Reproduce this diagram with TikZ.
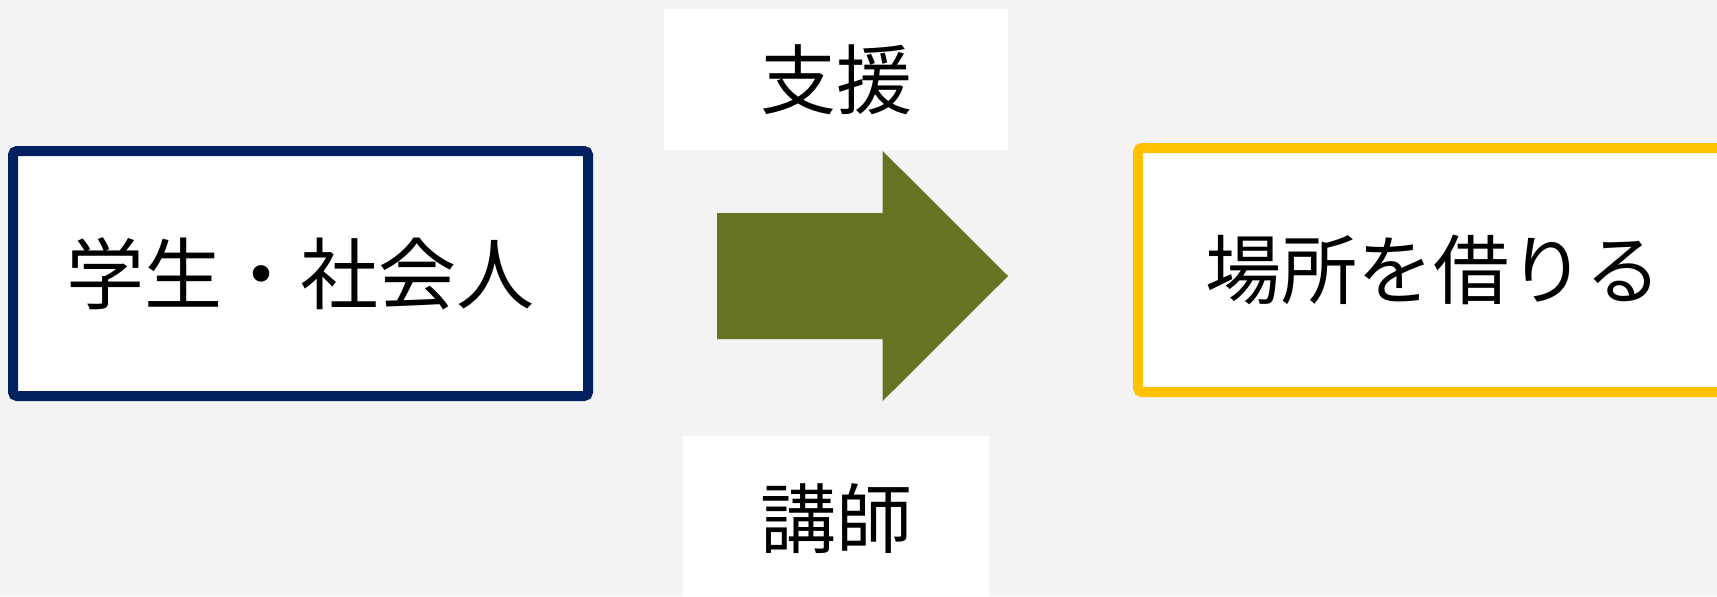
\documentclass[tikz,border=0pt]{standalone}
\usepackage{fontspec}
\newfontfamily\jpfont{Noto Sans CJK JP}
\usepackage{tikz}
\definecolor{boxnavy}{RGB}{0,32,96}
\definecolor{boxgold}{RGB}{255,192,0}
\definecolor{arrowolive}{RGB}{100,116,35}
\definecolor{pagegray}{RGB}{243,243,243}

\begin{document}
\begin{tikzpicture}
[
x=0.5pt, y=-0.5pt,
mybox/.style={rectangle, fill=white, line width=5pt, rounded corners=2pt, minimum width=287.5pt, minimum height=122.5pt, inner sep=0pt, font=\jpfont\fontsize{38pt}{40pt}\selectfont},
tbox/.style={rectangle, draw=none, fill=white, inner sep=0pt, font=\jpfont\fontsize{38pt}{40pt}\selectfont},
]
\fill[pagegray] (0,0) rectangle (1717,596);
\useasboundingbox (0,0) rectangle (1717,596);
\node at (300.5,273.5) [mybox, draw=boxnavy, font=\jpfont\fontsize{39pt}{41pt}\selectfont]      (people)     {学生・社会人};
\node at (1433.5,270) [mybox, draw=boxgold, minimum width=295.5pt, minimum height=122pt]      (place)     {場所を借りる};
\node at (836,79.5) [tbox, minimum width=172pt, minimum height=70.5pt]      (support)     {支援};
\node at (836,519) [tbox, minimum width=153pt, minimum height=83pt]      (teacher)     {講師};

\fill[arrowolive] (717,213) -- (882.7,213) -- (882.7,151) -- (1008,276) -- (882.7,401) -- (882.7,339) -- (717,339) -- cycle;
\end{tikzpicture}
\end{document}
